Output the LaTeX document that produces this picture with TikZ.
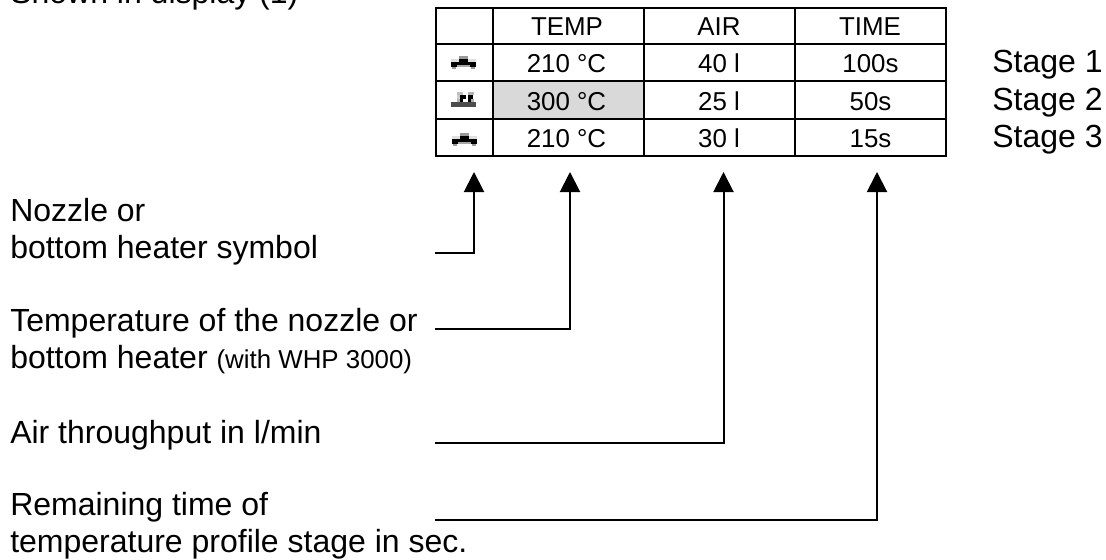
\documentclass[tikz,border=0pt]{standalone}
\usepackage{fontspec}
\setmainfont{Liberation Sans}
\usetikzlibrary{arrows.meta}

\tikzset{
  bigtext/.style={anchor=base west,inner sep=0pt,font=\fontsize{24}{28}\selectfont},
  celltext/.style={anchor=base,inner sep=0pt,font=\fontsize{19.4}{23}\selectfont},
  leader/.style={line width=1.5pt,-{Triangle[length=15pt,width=15pt]}},
  pics/nozzlesym/.style={code={
    \fill[gray!80] (8,0) rectangle (17,3);
    \fill[gray!25] (0,3) rectangle (25,6);
    \fill (8,3) rectangle (17,6);
    \fill (0,6) rectangle (25,9);
    \fill[gray!70] (6,9) rectangle (19,11);
    \fill (0,9) rectangle (6,11);
    \fill (19,9) rectangle (25,11);
    \fill[gray!80] (1,11) rectangle (5,13);
    \fill[gray!80] (20,11) rectangle (24,13);
  }},
  pics/heatersym/.style={code={
    \fill[gray!50] (6,0) rectangle (12,3);
    \fill[gray!60] (17,0) rectangle (23,3);
    \fill[gray!40] (6,3) rectangle (9,7);
    \fill (9,3) rectangle (15,7);
    \fill (17,3) rectangle (22,7);
    \fill[gray!60] (6,7) rectangle (9,10);
    \fill (9,7) rectangle (12,10);
    \fill (17,7) rectangle (20,10);
    \fill[gray!60] (20,7) rectangle (23,10);
    \fill[black!70] (0,10) rectangle (25,14.5);
  }}
}

\begin{document}
\begin{tikzpicture}[x=.75pt,y=-.75pt,line cap=butt]
  \useasboundingbox (0,0) rectangle (1106,560);

  \node[bigtext] (shown) at (10,3.5) {Shown in display (1)};

  % table
  \fill[gray!30] (493,81.5) rectangle (644,118.5);
  \draw[line width=1.5pt] (436,8) rectangle (946,156);
  \draw[line width=1.5pt] (436,44.5) -- (946,44.5) (436,81.5) -- (946,81.5) (436,118.5) -- (946,118.5);
  \draw[line width=1.5pt] (493,8) -- (493,156) (644,8) -- (644,156) (795,8) -- (795,156);

  \node[celltext] (temp) at (567,36) {TEMP};
  \node[celltext] (air) at (719,36) {AIR};
  \node[celltext] (time) at (870,36) {TIME};

  \pic at (451,56) {nozzlesym};
  \node[celltext] (temp1) at (566.5,73) {210 °C};
  \node[celltext] (air1) at (719,73) {40 l};
  \node[celltext] (time1) at (870.5,73) {100s};

  \pic at (451,92) {heatersym};
  \node[celltext] (temp2) at (566.5,110.5) {300 °C};
  \node[celltext] (air2) at (719,110.5) {25 l};
  \node[celltext] (time2) at (870.5,110.5) {50s};

  \pic at (452,132.5) {nozzlesym};
  \node[celltext] (temp3) at (566.5,147.5) {210 °C};
  \node[celltext] (air3) at (719,147.5) {30 l};
  \node[celltext] (time3) at (870.5,147.5) {15s};

  \node[bigtext] (stage1) at (992,73) {Stage 1};
  \node[bigtext] (stage2) at (992,110.5) {Stage 2};
  \node[bigtext] (stage3) at (992,147.5) {Stage 3};

  % labels on the left
  \node[bigtext] (symA) at (10,221) {Nozzle or};
  \node[bigtext] (symB) at (10,258) {bottom heater symbol};
  \node[bigtext] (tempA) at (10,331) {Temperature of the nozzle or};
  \node[bigtext] (tempB) at (10,368) {bottom heater {\fontsize{19.4}{23}\selectfont (with WHP 3000)}};
  \node[bigtext] (airA) at (10,443) {Air throughput in l/min};
  \node[bigtext] (timeA) at (10,515) {Remaining time of};
  \node[bigtext] (timeB) at (10,552) {temperature profile stage in sec.};

  \coordinate (symstart) at (435,252.7);
  \coordinate (tempstart) at (435,328.7);
  \coordinate (airstart) at (435,443);
  \coordinate (timestart) at (435,520);
  \coordinate (symtip) at (474,172);
  \coordinate (temptip) at (570,172);
  \coordinate (airtip) at (723.5,172);
  \coordinate (timetip) at (877,172);

  \draw[leader] (symstart) -| (symtip);
  \draw[leader] (tempstart) -| (temptip);
  \draw[leader] (airstart) -| (airtip);
  \draw[leader] (timestart) -| (timetip);
\end{tikzpicture}
\end{document}
